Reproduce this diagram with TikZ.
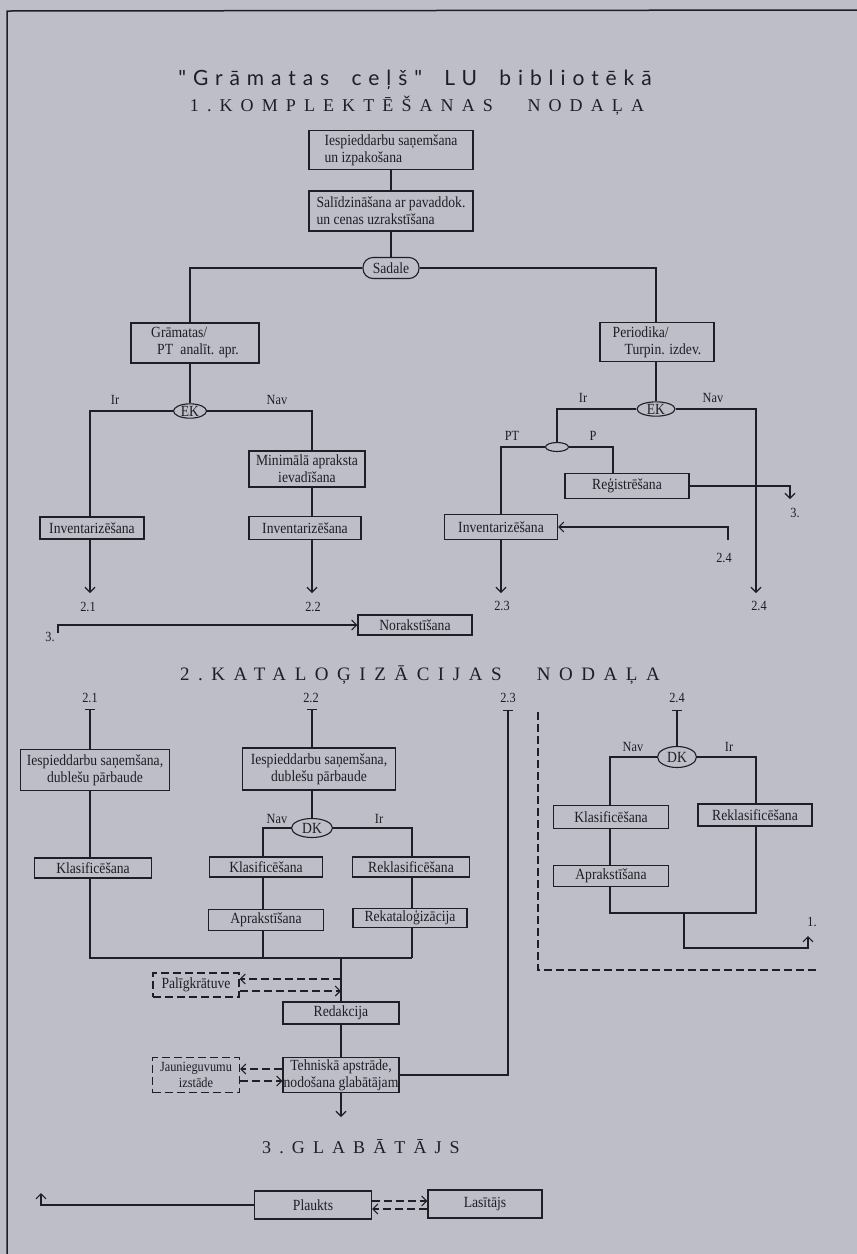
\documentclass[tikz,border=0pt]{standalone}
\usepackage{fontspec}
\setmainfont{Liberation Serif}
\newfontfamily\titlefont[LetterSpace=33]{Lato}
\newfontfamily\headfont[LetterSpace=45]{Liberation Serif}
\newfontfamily\boxfont[FakeStretch=0.88]{Liberation Serif}
\usetikzlibrary{arrows.meta,shapes.geometric}
\definecolor{paper}{RGB}{190,190,200}
\definecolor{ink}{RGB}{30,30,36}

\begin{document}
\begin{tikzpicture}[x=1pt, y=-1pt, line width=1.1pt, color=ink,
    >={Straight Barb[length=5pt,width=10pt]},
    box/.style 2 args={draw, rectangle, inner sep=0pt, minimum width=#1, minimum height=#2,
      font=\boxfont\fontsize{15.5}{17}\selectfont, align=center},
    dashline/.style={dash pattern=on 8pt off 4pt},
    dbox/.style 2 args={box={#1}{#2}, dashline},
    dec/.style 2 args={draw, ellipse, inner sep=0pt, minimum width=#1, minimum height=#2,
      font=\boxfont\fontsize{15.5}{17}\selectfont},
    lbl/.style={font=\boxfont\fontsize{14}{15}\selectfont},
    head/.style={font=\headfont\fontsize{18}{20}\selectfont},
    tbar/.style={{Bar[width=10pt]}-}]
  % paper and frame
  \fill[paper] (0,0) rectangle (857,1254);
  \useasboundingbox (0,0) rectangle (857,1254);
  \draw[line width=1.5pt] (7,1254) -- (7,11) -- (857,10);

  % headings
  \node[font=\titlefont\fontsize{21}{24}\selectfont] (title) at (415,80)
    {"Grāmatas\hspace{10pt} ceļš"\hspace{10pt} LU\hspace{10pt} bibliotēkā};
  \node[head] (h1) at (417,106) {1.KOMPLEKTĒŠANAS\hspace{22pt} NODAĻA};
  \node[head, font=\headfont\fontsize{19}{21}\selectfont] (h2) at (420,675)
    {2.KATALOĢIZĀCIJAS\hspace{22pt} NODAĻA};
  \node[head] (h3) at (361,1147) {3.GLABĀTĀJS};

  % 1. komplektesana
  \node[box={164pt}{39pt}, align=left] (b1) at (391,150) {Iespieddarbu saņemšana\\un izpakošana};
  \node[box={164pt}{40pt}, align=left] (b2) at (391,211) {Salīdzināšana ar pavaddok.\\un cenas uzrakstīšana};
  \node[draw, rounded corners=10pt, inner sep=0pt, minimum width=56pt, minimum height=21pt,
    font=\boxfont\fontsize{15.5}{17}\selectfont] (sadale) at (391,268) {Sadale};
  \coordinate (sl) at (190,268);
  \coordinate (sr) at (656,268);
  \draw (b1) -- (b2);
  \draw (b2) -- (sadale);

  \node[box={128pt}{40pt}, align=left] (gram) at (195,343) {Grāmatas/\\\hspace*{6pt}PT\hspace{4pt} analīt. apr.};
  \node[box={114pt}{39pt}, align=left] (per) at (657,342) {Periodika/\\\hspace*{12pt}Turpin. izdev.};
  \draw (sadale.west) -- (sl) -- (sl |- gram.north);
  \draw (sadale.east) -- (sr) -- (sr |- per.north);

  % left branch
  \node[dec={33pt}{14pt}] (ek1) at (190,411) {EK};
  \coordinate (ek1l) at (90,411);
  \coordinate (ek1r) at (312,411);
  \node[lbl] (ir1) at (115,400) {Ir};
  \node[lbl] (nav1) at (277,400) {Nav};
  \node[box={116pt}{36pt}] (min) at (307,469) {Minimālā apraksta\\ievadīšana};
  \node[box={104pt}{22pt}] (inv1) at (92,528) {Inventarizēšana};
  \node[box={112pt}{23pt}] (inv2) at (305,528) {Inventarizēšana};
  \coordinate (a21) at (90,593);
  \coordinate (a22) at (312,593);
  \node[lbl] (n21) at (88,607) {2.1};
  \node[lbl] (n22) at (313,607) {2.2};
  \draw (gram.south -| ek1) -- (ek1);
  \draw (ek1.west) -- (ek1l) -- (ek1l |- inv1.north);
  \draw (ek1.east) -- (ek1r) -- (ek1r |- min.north);
  \draw (min.south -| ek1r) -- (inv2.north -| ek1r);
  \draw[->] (inv1.south -| a21) -- (a21);
  \draw[->] (inv2.south -| a22) -- (a22);

  % right branch
  \node[dec={38pt}{14pt}] (ek2) at (656,409) {EK};
  \coordinate (ek2l) at (557,409);
  \coordinate (ek2r) at (756,409);
  \node[lbl] (ir2) at (583,398) {Ir};
  \node[lbl] (nav2) at (713,398) {Nav};
  \node[draw, ellipse, inner sep=0pt, minimum width=23pt, minimum height=9pt] (e3) at (557,447) {};
  \coordinate (e3l) at (501,447);
  \coordinate (e3r) at (613,447);
  \node[lbl] (pt) at (512,436) {PT};
  \node[lbl] (p) at (593,436) {P};
  \node[box={124pt}{25pt}] (reg) at (627,486) {Reģistrēšana};
  \node[box={113pt}{25pt}] (inv3) at (501,527) {Inventarizēšana};
  \coordinate (a3) at (790,499);
  \node[lbl] (n3a) at (795,513) {3.};
  \coordinate (s24) at (728,540);
  \node[lbl] (n24a) at (724,558) {2.4};
  \coordinate (a23) at (501,593);
  \coordinate (a24) at (756,593);
  \node[lbl] (n23) at (502,606) {2.3};
  \node[lbl] (n24) at (759,606) {2.4};
  \draw (per.south -| ek2) -- (ek2);
  \draw (ek2.west) -- (ek2l) -- (ek2l |- e3.north);
  \draw (e3.west) -- (e3l) -- (e3l |- inv3.north);
  \draw (e3.east) -- (e3r) -- (e3r |- reg.north);
  \draw[->] (reg.east) -- (reg.east -| a3) -- (a3);
  \draw[->] (s24) -- (s24 |- inv3.east) -- (inv3.east);
  \draw[->] (inv3.south -| a23) -- (a23);
  \draw[->] (ek2.east) -- (ek2r) -- (a24);

  % norakstisana
  \node[box={114pt}{20pt}] (nor) at (415,625) {Norakstīšana};
  \coordinate (s3) at (58,633);
  \node[lbl] (n3b) at (50,637) {3.};
  \draw[->] (s3) -- (s3 |- nor.west) -- (nor.west);

  % 2. katalogizacija
  \coordinate (t21) at (90,709);
  \coordinate (t22) at (312,709);
  \coordinate (t23) at (508,710);
  \coordinate (t24) at (677,710);
  \node[lbl] (m21) at (90,698) {2.1};
  \node[lbl] (m22) at (311,698) {2.2};
  \node[lbl] (m23) at (508,698) {2.3};
  \node[lbl] (m24) at (677,698) {2.4};

  \node[box={149pt}{41pt}] (i1) at (95,770) {Iespieddarbu saņemšana,\\dublešu pārbaude};
  \node[box={117pt}{20pt}] (kl1) at (93,868) {Klasificēšana};
  \node[box={153pt}{42pt}] (i2) at (319,769) {Iespieddarbu saņemšana,\\dublešu pārbaude};
  \node[dec={41pt}{19pt}] (dk1) at (312,828) {DK};
  \coordinate (dk1l) at (263,828);
  \coordinate (dk1r) at (412,828);
  \node[lbl] (nav3) at (277,819) {Nav};
  \node[lbl] (ir3) at (379,819) {Ir};
  \node[box={113pt}{20pt}] (kl2) at (266,867) {Klasificēšana};
  \node[box={117pt}{20pt}] (rk2) at (411,867) {Reklasificēšana};
  \node[box={115pt}{21pt}] (ap2) at (266,920) {Aprakstīšana};
  \node[box={114pt}{19pt}] (rkat) at (410,918) {Rekataloģizācija};
  \coordinate (m1) at (90,958);
  \coordinate (m2) at (412,958);
  \coordinate (m3) at (341,958);

  \draw[tbar] (t21) -- (t21 |- i1.north);
  \draw (i1.south -| t21) -- (kl1.north -| t21);
  \draw (kl1.south -| t21) -- (m1) -- (m2);
  \draw[tbar] (t22) -- (t22 |- i2.north);
  \draw (i2.south -| t22) -- (dk1);
  \draw (dk1.west) -- (dk1l) -- (dk1l |- kl2.north);
  \draw (dk1.east) -- (dk1r) -- (dk1r |- rk2.north);
  \draw (kl2.south -| dk1l) -- (ap2.north -| dk1l);
  \draw (rk2.south -| dk1r) -- (rkat.north -| dk1r);
  \draw (ap2.south -| dk1l) -- (dk1l |- m1);
  \draw (rkat.south -| dk1r) -- (m2);

  \node[dbox={86pt}{24pt}] (pal) at (196,985) {Palīgkrātuve};
  \node[box={116pt}{22pt}] (red) at (341,1013) {Redakcija};
  \node[box={116pt}{35pt}] (teh) at (341,1075) {Tehniskā apstrāde,\\nodošana glabātājam};
  \node[dbox={87pt}{35pt}, font=\boxfont\fontsize{14}{16}\selectfont] (jau) at (196,1075) {Jaunieguvumu\\izstāde};
  \coordinate (p1) at ([yshift=6pt]pal.east);
  \coordinate (p2) at ([yshift=-6pt]pal.east);
  \coordinate (q1) at ([yshift=6pt]teh.west);
  \coordinate (q2) at ([yshift=-6pt]teh.west);
  \coordinate (a3c) at (341,1117);
  \draw (m3) -- (red);
  \draw[->, dashline] (p1 -| m3) -- (p1);
  \draw[->, dashline] (p2) -- (p2 -| m3);
  \draw (red) -- (teh);
  \draw[->, dashline] (q1) -- (q1 -| jau.east);
  \draw[->, dashline] (q2 -| jau.east) -- (q2);
  \draw[tbar] (t23) -- (t23 |- teh.east) -- (teh.east);
  \draw[->] (teh) -- (a3c);

  % periodika katalogizacija
  \coordinate (d1) at (538,712);
  \coordinate (d2) at (818,970);
  \draw[dashline] (d1) -- (d1 |- d2) -- (d2);
  \node[dec={39pt}{21pt}] (dk2) at (677,757) {DK};
  \coordinate (dk2l) at (610,757);
  \coordinate (dk2r) at (756,757);
  \node[lbl] (nav4) at (633,747) {Nav};
  \node[lbl] (ir4) at (729,747) {Ir};
  \node[box={115pt}{23pt}] (kl3) at (611,817) {Klasificēšana};
  \node[box={114pt}{22pt}] (rk3) at (755,815) {Reklasificēšana};
  \node[box={115pt}{21pt}] (ap3) at (611,876) {Aprakstīšana};
  \coordinate (m4) at (610,913);
  \coordinate (m6) at (684,913);
  \coordinate (c1) at (684,948);
  \coordinate (a1) at (808,936);
  \node[lbl] (n1) at (812,922) {1.};
  \draw[tbar] (t24) -- (dk2.north);
  \draw (dk2.west) -- (dk2l) -- (dk2l |- kl3.north);
  \draw (dk2.east) -- (dk2r) -- (dk2r |- rk3.north);
  \draw (kl3.south -| dk2l) -- (ap3.north -| dk2l);
  \draw (ap3.south -| dk2l) -- (m4) -- (m4 -| dk2r) -- (rk3.south -| dk2r);
  \draw[->] (m6) -- (c1) -- (c1 -| a1) -- (a1);

  % 3. glabatajs
  \node[box={117pt}{28pt}] (pla) at (313,1205) {Plaukts};
  \node[box={114pt}{28pt}] (las) at (485,1204) {Lasītājs};
  \coordinate (g1) at (41,1193);
  \coordinate (u1) at ([yshift=4pt]pla.east);
  \coordinate (u2) at ([yshift=-4pt]pla.east);
  \draw[->, dashline] (u1) -- (u1 -| las.west);
  \draw[->, dashline] (u2 -| las.west) -- (u2);
  \draw[->] (pla.west) -- (pla.west -| g1) -- (g1);
\end{tikzpicture}
\end{document}
